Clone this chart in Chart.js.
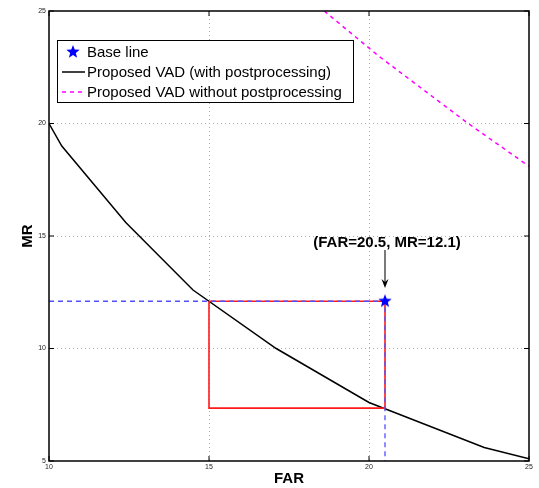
<!DOCTYPE html>
<html lang="en">

<head>
    <meta charset="UTF-8">
    <title>FAR vs MR</title>
    <script src="https://cdn.jsdelivr.net/npm/chart.js"></script>
    <style>
        body {
            margin: 0;
            background: #fff;
        }

        .chart-container {
            position: relative;
            width: 539px;
            height: 488px;
        }
    </style>
</head>

<body>
    <div class="chart-container">
        <canvas id="grafico"></canvas>
    </div>

    <script type="text/javascript">
        // Dados
        var farTicks = [10, 15, 20, 25];
        var mrTicks = [5, 10, 15, 20, 25];

        var baseFar = [20.5];
        var baseMr = [12.1];

        var postFar = [10, 10.4, 12.4, 14.5, 17.1, 20, 23.6, 25];
        var postMr = [20, 19.0, 15.6, 12.6, 10.0, 7.6, 5.6, 5.1];

        var noPostFar = [18.6, 20.3, 23.1, 25];
        var noPostMr = [25, 23.0, 20.0, 18.1];

        // retangulo vermelho e linhas tracejadas azuis
        var rectFar = [15, 20.5, 20.5, 15, 15];
        var rectMr = [12.1, 12.1, 7.35, 7.35, 12.1];
        var guideFar = [10, 20.5, 20.5];
        var guideMr = [12.1, 12.1, 5];

        var labels = ['Base line', 'Proposed VAD (with postprocessing)', 'Proposed VAD without postprocessing'];
        var annotText = '(FAR=20.5, MR=12.1)';

        function pares(xs, ys) {
            return xs.map(function (x, i) { return { x: x, y: ys[i] }; });
        }

        // estrela de 5 pontas preenchida
        function criaEstrela(r, cor) {
            var c = document.createElement('canvas');
            c.width = c.height = Math.ceil(2 * r + 2);
            var g = c.getContext('2d');
            var cx = c.width / 2, cy = c.height / 2;
            g.beginPath();
            for (var i = 0; i < 10; i++) {
                var rr = i % 2 === 0 ? r : r * 0.42;
                var a = -Math.PI / 2 + i * Math.PI / 5;
                g.lineTo(cx + rr * Math.cos(a), cy + rr * Math.sin(a));
            }
            g.closePath();
            g.fillStyle = cor;
            g.fill();
            return c;
        }
        var estrela = criaEstrela(7, '#0000ff');

        var FONTE = "'Liberation Sans', Arial, sans-serif";

        var gridCor = function (ctx) {
            var s = ctx.scale;
            if (ctx.tick && (ctx.tick.value === s.min || ctx.tick.value === s.max)) return 'rgba(0,0,0,0)';
            return '#adadad';
        };

        var moldura = {
            id: 'moldura',
            afterDraw: function (chart) {
                var ctx = chart.ctx;
                var a = chart.chartArea;
                var xs = chart.scales.x, ys = chart.scales.y;
                ctx.save();

                // caixa dos eixos
                ctx.strokeStyle = '#000';
                ctx.lineWidth = 1.5;
                ctx.strokeRect(a.left, a.top, a.right - a.left, a.bottom - a.top);

                // marcas internas
                ctx.lineWidth = 1;
                ctx.beginPath();
                farTicks.forEach(function (v) {
                    var px = xs.getPixelForValue(v);
                    ctx.moveTo(px, a.bottom); ctx.lineTo(px, a.bottom - 5);
                    ctx.moveTo(px, a.top); ctx.lineTo(px, a.top + 5);
                });
                mrTicks.forEach(function (v) {
                    var py = ys.getPixelForValue(v);
                    ctx.moveTo(a.left, py); ctx.lineTo(a.left + 5, py);
                    ctx.moveTo(a.right, py); ctx.lineTo(a.right - 5, py);
                });
                ctx.stroke();

                // anotacao com seta
                var ax = xs.getPixelForValue(baseFar[0]);
                var y0 = ys.getPixelForValue(14.38);
                var y1 = ys.getPixelForValue(12.69);
                ctx.strokeStyle = '#222';
                ctx.fillStyle = '#000';
                ctx.lineWidth = 1.2;
                ctx.beginPath();
                ctx.moveTo(ax, y0);
                ctx.lineTo(ax, y1 - 6);
                ctx.stroke();
                ctx.beginPath();
                ctx.moveTo(ax, y1);
                ctx.lineTo(ax - 3.5, y1 - 9);
                ctx.lineTo(ax, y1 - 6);
                ctx.lineTo(ax + 3.5, y1 - 9);
                ctx.closePath();
                ctx.fill();

                ctx.font = 'bold 15px ' + FONTE;
                ctx.textAlign = 'center';
                ctx.textBaseline = 'middle';
                ctx.fillText(annotText, ax + 2, ys.getPixelForValue(14.69));

                // legenda
                var lx = 57, ly = 40, lw = 296, lh = 62;
                ctx.fillStyle = '#fff';
                ctx.fillRect(lx, ly, lw, lh);
                ctx.strokeStyle = '#000';
                ctx.lineWidth = 1;
                ctx.strokeRect(lx + 0.5, ly + 0.5, lw, lh);

                ctx.font = '15px ' + FONTE;
                ctx.textAlign = 'left';
                ctx.fillStyle = '#000';
                var rows = [52, 72, 92];
                ctx.drawImage(estrela, 73 - estrela.width / 2, rows[0] - estrela.height / 2);

                ctx.lineWidth = 1.5;
                ctx.strokeStyle = '#000';
                ctx.beginPath();
                ctx.moveTo(62, rows[1]); ctx.lineTo(85, rows[1]);
                ctx.stroke();

                ctx.strokeStyle = '#ff00ff';
                ctx.setLineDash([4, 4]);
                ctx.beginPath();
                ctx.moveTo(62, rows[2]); ctx.lineTo(86, rows[2]);
                ctx.stroke();
                ctx.setLineDash([]);

                labels.forEach(function (t, i) {
                    ctx.fillText(t, 87, rows[i] + 1);
                });

                ctx.restore();
            }
        };

        var ctx = document.getElementById('grafico').getContext('2d');
        var grafico = new Chart(ctx, {
            type: 'scatter',
            data: {
                datasets: [{
                    label: labels[0],
                    data: pares(baseFar, baseMr),
                    pointStyle: estrela,
                    order: 0
                }, {
                    label: labels[1],
                    data: pares(postFar, postMr),
                    showLine: true,
                    borderColor: '#000',
                    borderWidth: 1.5,
                    pointRadius: 0,
                    order: 3
                }, {
                    label: labels[2],
                    data: pares(noPostFar, noPostMr),
                    showLine: true,
                    borderColor: '#ff00ff',
                    borderWidth: 1.5,
                    borderDash: [4, 4],
                    pointRadius: 0,
                    order: 4
                }, {
                    label: 'rect',
                    data: pares(rectFar, rectMr),
                    showLine: true,
                    borderColor: '#ff1a1a',
                    borderWidth: 1.6,
                    pointRadius: 0,
                    order: 2
                }, {
                    label: 'guia',
                    data: pares(guideFar, guideMr),
                    showLine: true,
                    borderColor: '#5050ff',
                    borderWidth: 1.3,
                    borderDash: [5, 4],
                    pointRadius: 0,
                    order: 1
                }]
            },
            options: {
                responsive: true,
                maintainAspectRatio: false,
                animation: false,
                layout: { padding: { top: 11, right: 10, left: 0, bottom: 0 } },
                plugins: {
                    legend: { display: false },
                    tooltip: { enabled: false }
                },
                scales: {
                    x: {
                        type: 'linear',
                        min: 10,
                        max: 25,
                        afterBuildTicks: function (s) { s.ticks = farTicks.map(function (v) { return { value: v }; }); },
                        afterFit: function (s) { s.height = 27; },
                        ticks: { font: { size: 7, family: FONTE }, color: '#222', padding: 2 },
                        grid: { color: gridCor, lineWidth: 1, drawTicks: false },
                        border: { display: false, dash: [1, 3] },
                        title: { display: true, text: 'FAR', font: { size: 15, weight: 'bold', family: FONTE }, color: '#000', padding: { top: 0, bottom: 0 } }
                    },
                    y: {
                        type: 'linear',
                        min: 5,
                        max: 25,
                        afterBuildTicks: function (s) { s.ticks = mrTicks.map(function (v) { return { value: v }; }); },
                        afterFit: function (s) { s.width = 49; },
                        ticks: { font: { size: 7, family: FONTE }, color: '#222', padding: 3 },
                        grid: { color: gridCor, lineWidth: 1, drawTicks: false },
                        border: { display: false, dash: [1, 3] },
                        title: { display: true, text: 'MR', font: { size: 15, weight: 'bold', family: FONTE }, color: '#000', padding: { top: 19, bottom: 0 } }
                    }
                }
            },
            plugins: [moldura]
        });
    </script>

</body>

</html>
